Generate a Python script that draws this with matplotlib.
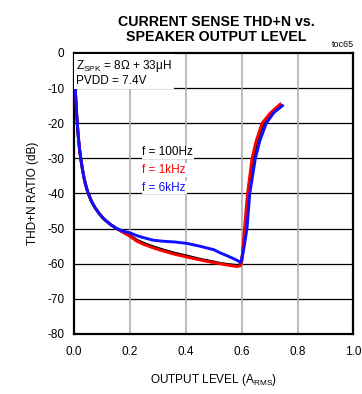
import matplotlib
matplotlib.use("Agg")
import matplotlib.pyplot as plt
from matplotlib import font_manager

names = {f.name for f in font_manager.fontManager.ttflist}
narrow = 'Liberation Sans Narrow' if 'Liberation Sans Narrow' in names else 'Liberation Sans'
plt.rcParams['font.family'] = ['Liberation Sans', 'DejaVu Sans']
plt.rcParams['mathtext.fontset'] = 'custom'
plt.rcParams['mathtext.rm'] = 'Liberation Sans'

# ---- data ----
x_100 = [0.003, 0.006, 0.01, 0.015, 0.02, 0.025, 0.03, 0.035, 0.04, 0.048, 0.057, 0.065,
         0.075, 0.09, 0.105, 0.13, 0.153, 0.18, 0.2,
         0.225, 0.25, 0.284, 0.32, 0.36, 0.404, 0.45, 0.5, 0.523, 0.55, 0.583, 0.595,
         0.6, 0.606, 0.613, 0.624, 0.641, 0.656, 0.678, 0.70, 0.72, 0.738]
y_100 = [-8, -12.5, -18, -23.5, -27.5, -30.5, -33, -35.2, -37, -39.3, -41.2, -42.6,
         -44, -45.7, -47.1, -48.8, -50, -51.2, -52.0,
         -53.3, -54.2, -55.2, -56.1, -57.0, -57.8, -58.7, -59.5, -59.9, -60.2, -60.5, -60.3,
         -59.3, -55, -50, -40, -30, -25, -20, -17.6, -16.0, -14.8]

x_1k = [0.003, 0.006, 0.01, 0.015, 0.02, 0.025, 0.03, 0.035, 0.04, 0.048, 0.057, 0.065,
        0.075, 0.09, 0.105, 0.13, 0.153, 0.18, 0.2,
        0.225, 0.25, 0.284, 0.32, 0.36, 0.404, 0.45, 0.5, 0.523, 0.55, 0.583, 0.595,
        0.6, 0.605, 0.61, 0.621, 0.637, 0.652, 0.673, 0.70, 0.72, 0.738]
y_1k = [-8, -12.5, -18, -23.5, -27.5, -30.5, -33, -35.2, -37, -39.3, -41.2, -42.6,
        -44, -45.7, -47.1, -48.8, -50, -51.2, -52.2,
        -53.6, -54.5, -55.5, -56.4, -57.3, -58.1, -58.9, -59.7, -60.0, -60.4, -60.8, -60.6,
        -59.5, -55, -50, -40, -30, -25, -20, -17.3, -15.8, -14.6]

x_6k = [0.003, 0.006, 0.01, 0.015, 0.02, 0.025, 0.03, 0.035, 0.04, 0.048, 0.057, 0.065,
        0.075, 0.09, 0.105, 0.13, 0.153, 0.18, 0.2,
        0.225, 0.25, 0.284, 0.32, 0.36, 0.404, 0.45, 0.5, 0.523, 0.55, 0.575, 0.597,
        0.605, 0.619, 0.629, 0.649, 0.665, 0.688, 0.715, 0.746]
y_6k = [-8, -12.5, -18, -23.5, -27.5, -30.5, -33, -35.2, -37, -39.3, -41.2, -42.6,
        -44, -45.7, -47.1, -48.8, -50, -50.8, -51.2,
        -52.0, -52.6, -53.3, -53.6, -53.8, -54.2, -55.0, -56.0, -56.9, -57.8, -58.7, -59.6,
        -57, -50, -40, -30, -25, -20, -17, -15]

x_ticks = [0.0, 0.2, 0.4, 0.6, 0.8, 1.0]
x_ticklabels = ["0.0", "0.2", "0.4", "0.6", "0.8", "1.0"]
y_ticks = [0, -10, -20, -30, -40, -50, -60, -70, -80]
y_ticklabels = ["0", "-10", "-20", "-30", "-40", "-50", "-60", "-70", "-80"]
legend_labels = ["f = 100Hz", "f = 1kHz", "f = 6kHz"]

fig = plt.figure(figsize=(3.62, 3.94), dpi=100)
ax = fig.add_axes([0.2044, 0.1523, 0.772, 0.7132])

ax.set_xlim(0, 1.0)
ax.set_ylim(-80, 0)
for yv in y_ticks[1:-1]:
    ax.axhline(yv, color='black', lw=0.9, zorder=1)
for xv in x_ticks[1:-1]:
    ax.axvline(xv, color='#aaaaaa', lw=1.1, zorder=1)

ax.plot(x_100, y_100, color='black', lw=2.1, zorder=3)
ax.plot(x_1k, y_1k, color='#ff0000', lw=2.1, zorder=4)
ax.plot(x_6k, y_6k, color='#1010ff', lw=2.1, zorder=5)

ax.set_xticks(x_ticks)
ax.set_xticklabels(x_ticklabels)
ax.set_yticks(y_ticks)
ax.set_yticklabels(y_ticklabels)
ax.tick_params(length=0, labelsize=8.5)
ax.tick_params(axis='x', pad=9)
ax.tick_params(axis='y', pad=7)
for s in ax.spines.values():
    s.set_linewidth(1.6)

ax.text(0.008, -1.5, "Z$_\\mathregular{SPK}$ = 8Ω + 33μH\nPVDD = 7.4V", fontsize=8.5,
        va='top', ha='left', linespacing=1.05, zorder=6,
        bbox=dict(facecolor='white', edgecolor='none', pad=1.5))

leg_colors = ['black', '#ff0000', '#1010ff']
leg_y = [-28.3, -33.3, -38.3]
for lab, c, yy in zip(legend_labels, leg_colors, leg_y):
    ax.text(0.245, yy, lab, color=c, fontsize=8.5, va='center', ha='left', zorder=6,
            bbox=dict(facecolor='white', edgecolor='none', pad=0.5))

ax.set_xlabel("OUTPUT LEVEL (A$_\\mathregular{RMS}$)", fontsize=8.5, labelpad=10)
ax.set_ylabel("THD+N RATIO (dB)", fontsize=8.5, labelpad=6)

fig.text(0.597, 0.962, "CURRENT SENSE THD+N vs.\nSPEAKER OUTPUT LEVEL", ha='center', va='top',
         fontsize=10.2, fontweight='bold', family=narrow, linespacing=1.1)
fig.text(0.978, 0.875, "toc65", ha='right', va='bottom', fontsize=6.5)

fig.savefig("out.png", dpi=100)
